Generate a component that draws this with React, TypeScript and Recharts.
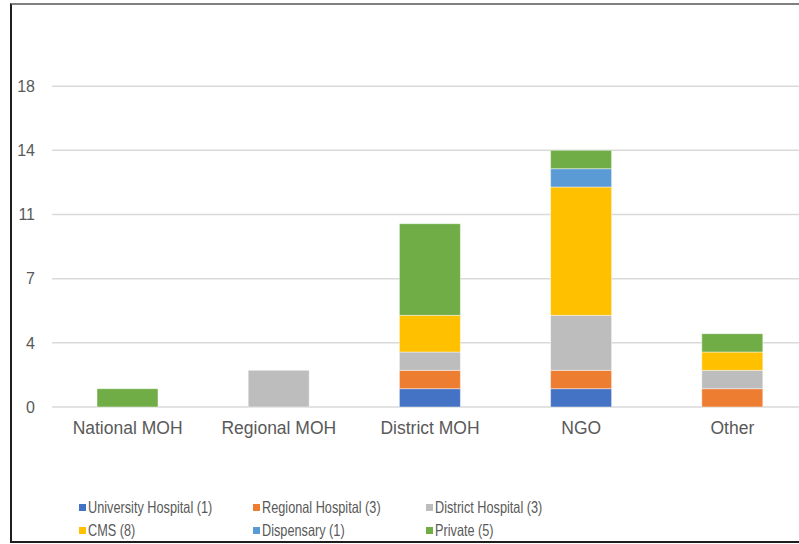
import { BarChart, Bar, XAxis, YAxis, CartesianGrid, Legend } from "recharts"

const categories = ["National MOH", "Regional MOH", "District MOH", "NGO", "Other"]
const university = [0, 0, 1, 1, 0]
const regional = [0, 0, 1, 1, 1]
const district = [0, 2, 1, 3, 1]
const cms = [0, 0, 2, 7, 1]
const dispensary = [0, 0, 0, 1, 0]
const privateSector = [1, 0, 5, 1, 1]
const yTicks = [0, 3.5, 7, 10.5, 14, 17.5]

const series = [
  { key: "university", name: "University Hospital (1)", color: "#4472C4", values: university },
  { key: "regional", name: "Regional Hospital (3)", color: "#ED7D31", values: regional },
  { key: "district", name: "District Hospital (3)", color: "#BDBDBD", values: district },
  { key: "cms", name: "CMS (8)", color: "#FFC000", values: cms },
  { key: "dispensary", name: "Dispensary (1)", color: "#5B9BD5", values: dispensary },
  { key: "private", name: "Private (5)", color: "#70AD47", values: privateSector },
]

const data = categories.map((name, i) => {
  const row: Record<string, string | number> = { name }
  series.forEach((s) => {
    row[s.key] = s.values[i]
  })
  return row
})

function LegendBox() {
  return (
    <div
      style={{
        display: "grid",
        gridTemplateColumns: "173.5px 173.5px 173.5px",
        paddingLeft: 79,
        fontFamily: '"Liberation Sans", Arial, sans-serif',
        fontSize: 16.5,
        lineHeight: "23px",
        color: "#595959",
        textAlign: "left",
      }}
    >
      {series.map((s) => (
        <div key={s.key} style={{ display: "flex", alignItems: "center", whiteSpace: "nowrap" }}>
          <span style={{ width: 7, height: 7, background: s.color, marginRight: 2, display: "inline-block", flex: "none" }} />
          <span style={{ display: "inline-block", transform: "scaleX(0.77)", transformOrigin: "left center" }}>
            {s.name}
          </span>
        </div>
      ))}
    </div>
  )
}

// skip the line at the very top of the plot, the reference has none there
const gridLine = (props: any) => {
  if (props.y1 < 30) return <g key={props.key} />
  return (
    <line
      key={props.key}
      x1={props.x1}
      y1={props.y1}
      x2={props.x2}
      y2={props.y2}
      stroke="#D9D9D9"
      strokeWidth={1.5}
    />
  )
}

export default function App() {
  return (
    <div
      style={{
        position: "absolute",
        left: 0,
        top: 0,
        width: 799,
        height: 544,
        overflow: "hidden",
        background: "#fff",
      }}
    >
      <div
        style={{
          position: "absolute",
          left: 10,
          top: 3,
          width: 820,
          height: 540,
          boxSizing: "border-box",
          borderLeft: "2px solid #1e1e1e",
          borderTop: "2px solid #808080",
          borderBottom: "2px solid #1e1e1e",
        }}
      />
      <div style={{ position: "absolute", left: 0, top: 0 }}>
        <BarChart
          width={808}
          height={544}
          data={data}
          margin={{ top: 22, right: 0, bottom: 0, left: 0 }}
          barSize={61}
          style={{ fontFamily: '"Liberation Sans", Arial, sans-serif' }}
        >
          <CartesianGrid vertical={false} horizontal={gridLine} />
          <XAxis
            dataKey="name"
            height={137}
            axisLine={false}
            tickLine={false}
            tickSize={0}
            tickMargin={15}
            interval={0}
            tick={{ fontSize: 17.5, fill: "#595959" }}
          />
          <YAxis
            width={52}
            domain={[0, 21]}
            ticks={yTicks}
            interval={0}
            axisLine={false}
            tickLine={false}
            tickSize={0}
            tickMargin={17}
            tickFormatter={(v: number) => String(Math.round(v))}
            tick={{ fontSize: 16, fill: "#595959" }}
          />
          {series.map((s) => (
            <Bar
              key={s.key}
              dataKey={s.key}
              name={s.name}
              stackId="a"
              fill={s.color}
              stroke="#ffffff"
              strokeOpacity={0.6}
              strokeWidth={0.75}
              isAnimationActive={false}
            />
          ))}
          <Legend
            layout="horizontal"
            verticalAlign="middle"
            align="center"
            wrapperStyle={{ top: 496, left: 0, width: 799 }}
            content={() => <LegendBox />}
          />
        </BarChart>
      </div>
    </div>
  )
}
